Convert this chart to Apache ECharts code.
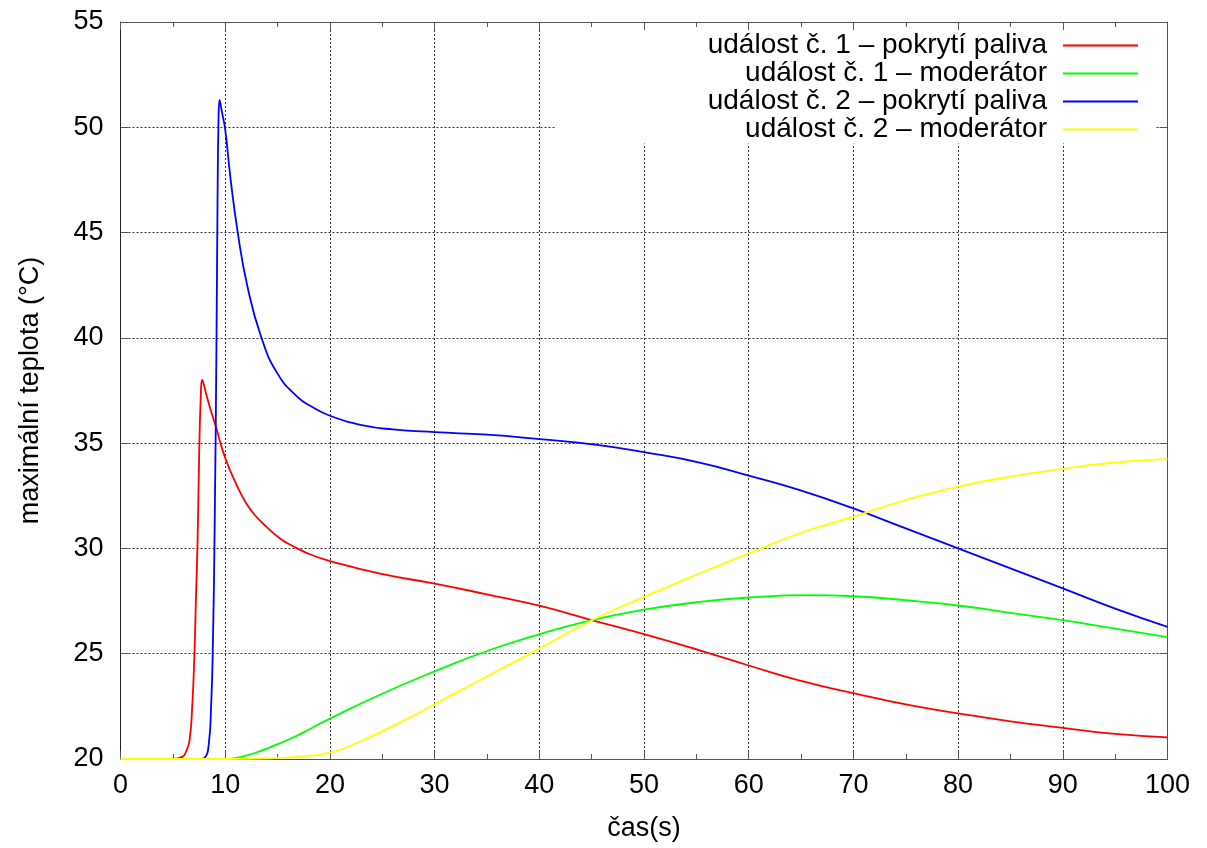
<!DOCTYPE html>
<html>
<head>
<meta charset="utf-8">
<script src="https://cdn.jsdelivr.net/npm/echarts@6/dist/echarts.min.js"></script>
<style>
html,body{margin:0;padding:0;background:#fff;}
#chart{width:1207px;height:848px;}
</style>
</head>
<body>
<div id="chart"></div>
<script>
// ---- data (time in s, temperature in °C) ----
const seriesNames = [
  'událost č. 1 – pokrytí paliva',
  'událost č. 1 – moderátor',
  'událost č. 2 – pokrytí paliva',
  'událost č. 2 – moderátor'
];
const xTicks = [0, 10, 20, 30, 40, 50, 60, 70, 80, 90, 100];
const yTicks = [20, 25, 30, 35, 40, 45, 50, 55];

const t1Fuel = [0, 5, 5.9, 6.3, 6.6, 6.85, 7.05, 7.2, 7.36, 7.52, 7.68, 7.8, 7.95, 8.2, 8.6, 9.1, 10, 11.2, 12, 12.8, 14, 15.3, 16.5, 18.2, 20, 24.8, 30, 35, 40, 45, 50, 55.3, 60, 64.8, 70, 75, 80, 85, 90, 95, 100];
const v1Fuel = [20, 20, 20.1, 20.4, 20.9, 22.5, 24.8, 27.5, 30.3, 34.6, 37.4, 38.0, 37.8, 37.3, 36.6, 35.8, 34.3, 32.9, 32.15, 31.6, 31.0, 30.45, 30.1, 29.7, 29.4, 28.8, 28.33, 27.82, 27.28, 26.6, 25.93, 25.16, 24.44, 23.73, 23.13, 22.59, 22.17, 21.79, 21.48, 21.19, 21.03];

const t1Mod = [0, 10, 11, 12, 13.2, 14.5, 16.4, 18, 20, 25, 30, 35, 40, 45, 50, 55.3, 60, 65.8, 70, 75, 80, 85, 90, 95, 100];
const v1Mod = [20, 20, 20.05, 20.16, 20.35, 20.6, 21.0, 21.4, 21.92, 23.1, 24.16, 25.13, 25.92, 26.6, 27.09, 27.46, 27.67, 27.78, 27.73, 27.54, 27.29, 26.94, 26.59, 26.19, 25.79];

const t2Fuel = [0, 7.5, 8.0, 8.47, 8.65, 8.8, 9.0, 9.17, 9.27, 9.36, 9.46, 9.55, 9.7, 10, 10.5, 11.2, 12.1, 13.4, 15, 16.9, 18.2, 20, 23.2, 26, 30, 35, 40, 45.5, 50, 55.3, 60, 64.8, 70, 75, 80, 85, 90, 95, 100];
const v2Fuel = [20, 20, 20.04, 20.9, 22.5, 24.8, 31.3, 40.0, 46.6, 50.3, 51.3, 51.1, 50.7, 49.9, 47.6, 45.0, 42.5, 40.1, 38.3, 37.2, 36.75, 36.3, 35.84, 35.65, 35.52, 35.4, 35.19, 34.92, 34.57, 34.08, 33.46, 32.78, 31.9, 30.95, 30.0, 29.05, 28.1, 27.14, 26.27];

const t2Mod = [0, 10, 15, 17.5, 20, 22.9, 25.1, 27.7, 30, 32.5, 35, 40, 45, 50, 55.3, 60, 64.8, 70, 75, 80, 85, 90, 95, 100];
const v2Mod = [20, 20, 20.05, 20.13, 20.3, 20.83, 21.35, 21.99, 22.6, 23.27, 23.92, 25.24, 26.59, 27.7, 28.81, 29.76, 30.71, 31.51, 32.3, 32.94, 33.41, 33.78, 34.08, 34.24];

const colors = ['#ff0000', '#00ff00', '#0000ff', '#ffff00'];
const times = [t1Fuel, t1Mod, t2Fuel, t2Mod];
const values = [v1Fuel, v1Mod, v2Fuel, v2Mod];

function pairs(ts, vs) { return ts.map((t, i) => [t, vs[i]]); }

const FONT = 'Liberation Sans, Arial, sans-serif';
const FS = 27;
const chart = echarts.init(document.getElementById('chart'), null, {renderer: 'canvas'});

const frameColor = '#555';
const gridLine = {show: true, lineStyle: {color: '#333', type: [2, 2], width: 1}};

chart.setOption({
  animation: false,
  backgroundColor: '#fff',
  grid: {left: 120.5, right: 39.5, top: 22, bottom: 89, containLabel: false},
  legend: {
    orient: 'vertical',
    align: 'right',
    right: 52,
    top: 30,
    padding: [1.5, 17, 0, 152],
    backgroundColor: '#fff',
    itemGap: 0,
    itemWidth: 75,
    itemHeight: 2,
    icon: 'rect',
    textStyle: {fontFamily: FONT, fontSize: 28, color: '#000', lineHeight: 27, padding: [0, 11, 0, 0]},
    data: seriesNames
  },
  xAxis: [{
    type: 'value', min: 0, max: 100, interval: 10,
    name: 'čas(s)', nameLocation: 'middle', nameGap: 56,
    nameTextStyle: {fontFamily: FONT, fontSize: FS, color: '#000'},
    axisLine: {show: true, onZero: false, lineStyle: {color: frameColor, width: 1}},
    axisTick: {show: true, inside: true, length: 8, lineStyle: {color: frameColor}},
    minorTick: {show: true, splitNumber: 2, length: 5, lineStyle: {color: frameColor}},
    axisLabel: {fontFamily: FONT, fontSize: FS, color: '#000', margin: 13,
      formatter: v => xTicks.includes(v) ? String(v) : ''},
    splitLine: gridLine
  }, {
    type: 'value', min: 0, max: 100, interval: 10, position: 'top',
    axisLine: {show: true, onZero: false, lineStyle: {color: frameColor, width: 1}},
    axisTick: {show: true, inside: true, length: 8, lineStyle: {color: frameColor}},
    minorTick: {show: true, splitNumber: 2, length: 5, lineStyle: {color: frameColor}},
    axisLabel: {show: false},
    splitLine: {show: false}
  }],
  yAxis: [{
    type: 'value', min: 20, max: 55, interval: 5,
    name: 'maximální teplota (°C)', nameLocation: 'middle', nameGap: 76,
    nameTextStyle: {fontFamily: FONT, fontSize: FS, color: '#000'},
    axisLine: {show: true, onZero: false, lineStyle: {color: '#222', width: 1}},
    axisTick: {show: true, inside: true, length: 8, lineStyle: {color: frameColor}},
    axisLabel: {fontFamily: FONT, fontSize: FS, color: '#000', margin: 17,
      formatter: v => yTicks.includes(v) ? String(v) : ''},
    splitLine: gridLine
  }, {
    type: 'value', min: 20, max: 55, interval: 5, position: 'right',
    axisLine: {show: true, onZero: false, lineStyle: {color: frameColor, width: 1}},
    axisTick: {show: true, inside: true, length: 8, lineStyle: {color: frameColor}},
    axisLabel: {show: false},
    splitLine: {show: false}
  }],
  series: seriesNames.map((name, i) => ({
    name: name,
    type: 'line',
    xAxisIndex: 0,
    yAxisIndex: 0,
    data: pairs(times[i], values[i]),
    smooth: 0.5,
    symbol: 'none',
    lineStyle: {color: colors[i], width: 1.8},
    itemStyle: {color: colors[i]},
    z: 3
  }))
});
</script>
</body>
</html>
